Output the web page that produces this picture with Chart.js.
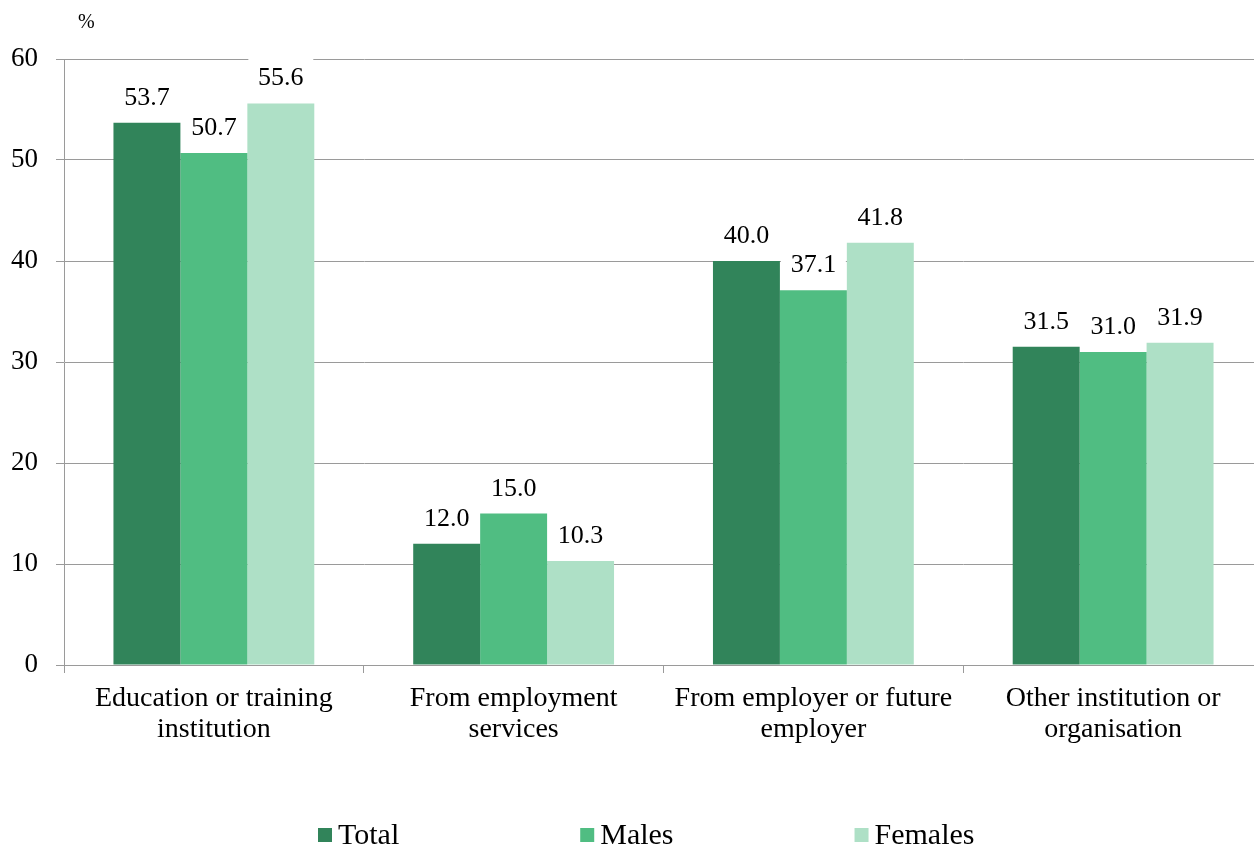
<!DOCTYPE html>
<html>
<head>
<meta charset="utf-8">
<script src="https://cdn.jsdelivr.net/npm/chart.js@4"></script>
<style>
    body { margin: 0; background: #fff; overflow: hidden; }
    #wrap { width: 1254px; height: 847px; overflow: hidden; }
</style>
</head>
<body>
<div id="wrap"><canvas id="chart" width="1276" height="847"></canvas></div>
<script>
// Data
const categories = [
    ['Education or training', 'institution'],
    ['From employment', 'services'],
    ['From employer or future', 'employer'],
    ['Other institution or', 'organisation']
];
const totalValues = [53.7, 12.0, 40.0, 31.5];
const maleValues = [50.7, 15.0, 37.1, 31.0];
const femaleValues = [55.6, 10.3, 41.8, 31.9];
const yTicks = [0, 10, 20, 30, 40, 50, 60];

const FONT = '"Liberation Serif", "Times New Roman", serif';
const GRID = '#9a9a9a';

// Value labels on a white box that hides the gridlines behind them
const valueLabels = {
    id: 'valueLabels',
    afterDatasetsDraw(chart) {
        const ctx = chart.ctx;
        ctx.save();
        ctx.font = '26px ' + FONT;
        ctx.textAlign = 'center';
        ctx.textBaseline = 'alphabetic';
        chart.data.datasets.forEach((ds, i) => {
            chart.getDatasetMeta(i).data.forEach((bar, j) => {
                const base = bar.y - 18;
                const w = bar.width - 2;
                ctx.fillStyle = '#fff';
                ctx.fillRect(bar.x - w / 2, base - 29, w, 37);
                ctx.fillStyle = '#000';
                ctx.fillText(ds.data[j].toFixed(1), bar.x, base);
            });
        });
        ctx.restore();
    }
};

// Unit label and bottom legend
const extras = {
    id: 'extras',
    afterDraw(chart) {
        const ctx = chart.ctx;
        ctx.save();
        ctx.fillStyle = '#000';
        ctx.font = '20px ' + FONT;
        ctx.textBaseline = 'middle';
        ctx.fillText('%', 78, 23);

        ctx.font = '30px ' + FONT;
        let x = 318;
        const y = 835;
        chart.data.datasets.forEach(ds => {
            ctx.fillStyle = ds.backgroundColor;
            ctx.fillRect(x, y - 7, 14, 14);
            ctx.fillStyle = '#000';
            ctx.fillText(ds.label, x + 20, y + 1);
            x += 20 + ctx.measureText(ds.label).width + 181;
        });
        ctx.restore();
    }
};

new Chart(document.getElementById('chart'), {
    type: 'bar',
    data: {
        labels: categories,
        datasets: [
            { label: 'Total', data: totalValues, backgroundColor: '#31845a' },
            { label: 'Males', data: maleValues, backgroundColor: '#50bd82' },
            { label: 'Females', data: femaleValues, backgroundColor: '#aee0c6' }
        ]
    },
    options: {
        responsive: false,
        animation: false,
        devicePixelRatio: 1,
        layout: { padding: { left: 10, right: 13, top: 59, bottom: 92 } },
        datasets: { bar: { categoryPercentage: 0.67, barPercentage: 1.0 } },
        plugins: {
            legend: { display: false },
            tooltip: { enabled: false }
        },
        scales: {
            x: {
                grid: {
                    offset: true,
                    drawOnChartArea: false,
                    color: GRID,
                    tickLength: 8
                },
                border: { color: GRID },
                ticks: {
                    color: '#000',
                    padding: 10,
                    font: { family: FONT, size: 28, lineHeight: '31px' }
                },
                afterFit(axis) {
                    axis.paddingLeft = 0;
                    axis.paddingRight = 0;
                }
            },
            y: {
                min: 0,
                max: 60,
                afterBuildTicks(axis) {
                    axis.ticks = yTicks.map(v => ({ value: v }));
                },
                afterFit(axis) {
                    axis.width = 54;
                },
                grid: { color: GRID, tickLength: 8 },
                border: { color: GRID },
                ticks: {
                    color: '#000',
                    padding: 18,
                    font: { family: FONT, size: 27 }
                }
            }
        }
    },
    plugins: [valueLabels, extras]
});
</script>
</body>
</html>
